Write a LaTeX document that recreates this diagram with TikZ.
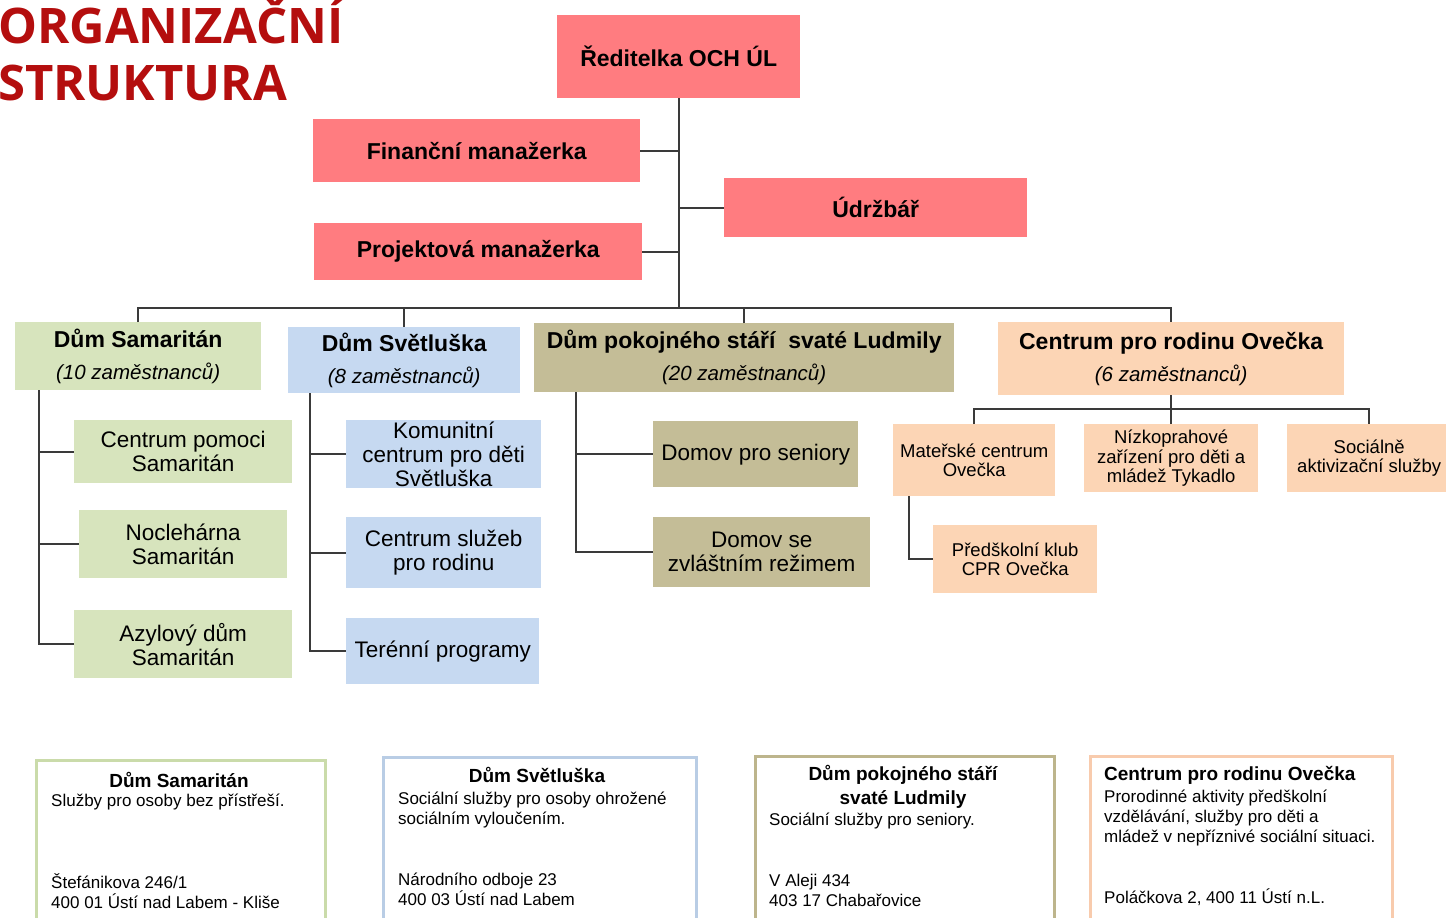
\documentclass[tikz,border=0pt]{standalone}
\usepackage{fontspec}
\setmainfont{Liberation Sans}
\newfontfamily\titlefont{Open Sans}
\definecolor{pinkc}{HTML}{FF7C80}
\definecolor{greenc}{HTML}{D7E4BD}
\definecolor{bluec}{HTML}{C6D9F1}
\definecolor{khakic}{HTML}{C4BD97}
\definecolor{peachc}{HTML}{FCD5B5}
\definecolor{titlec}{HTML}{B40E0E}
\definecolor{linec}{HTML}{3A3A3A}
\definecolor{greenb}{HTML}{CADBAA}
\definecolor{blueb}{HTML}{B9CDE5}
\definecolor{khakib}{HTML}{BDB58C}
\definecolor{peachb}{HTML}{F8CBAD}
\begin{document}
\begin{tikzpicture}[x=1pt,y=-1pt,
  orgbox/.style={inner sep=0pt,anchor=north west,align=center,text=black},
  topbox/.style={orgbox,fill=pinkc,font=\fontsize{23}{26}\selectfont\bfseries},
  headbox/.style={orgbox,font=\fontsize{23}{32}\selectfont},
  subbox/.style={orgbox,font=\fontsize{22.5}{24}\selectfont},
  smallbox/.style={orgbox,font=\fontsize{18.5}{19.5}\selectfont},
  infobox/.style={inner sep=0pt,anchor=north west,line width=3pt},
  infotitle/.style={inner sep=0pt,anchor=base,font=\fontsize{19}{22}\selectfont\bfseries},
  infotext/.style={inner sep=0pt,anchor=base west,font=\fontsize{17}{20}\selectfont},
  conn/.style={draw=linec,line width=2pt},
  titletext/.style={inner sep=0pt,anchor=base west,text=titlec,font=\fontsize{49}{56}\selectfont\titlefont\bfseries}]
\clip (0,0) rectangle (1446,918);

% title
\node[titletext] (t1) at (-2,43) {ORGANIZAČNÍ};
\node[titletext] (t2) at (-2,100) {STRUKTURA};

% top management
\node[topbox,minimum width=243,minimum height=83] (dir) at (557,15) {Ředitelka OCH ÚL};
\node[topbox,minimum width=327,minimum height=63] (fin) at (313,119) {Finanční manažerka};
\node[topbox,minimum width=303,minimum height=59] (udr) at (724,178) {Údržbář};
\node[topbox,minimum width=328,minimum height=57] (proj) at (314,223) {Projektová manažerka};

% houses
\node[headbox,fill=greenc,minimum width=246,minimum height=68] (sam) at (15,322)
  {{\bfseries Dům Samaritán}\\{\fontsize{20.5}{32}\selectfont\itshape (10 zaměstnanců)}};
\node[headbox,fill=bluec,minimum width=232,minimum height=66] (svet) at (288,327)
  {{\bfseries Dům Světluška}\\{\fontsize{20.5}{32}\selectfont\itshape (8 zaměstnanců)}};
\node[headbox,fill=khakic,minimum width=420,minimum height=69] (lud) at (534,323)
  {{\bfseries Dům pokojného stáří\ \ svaté Ludmily}\\{\fontsize{20.5}{32}\selectfont\itshape (20 zaměstnanců)}};
\node[headbox,fill=peachc,minimum width=346,minimum height=73] (ove) at (998,322)
  {{\bfseries Centrum pro rodinu Ovečka}\\{\fontsize{20.5}{32}\selectfont\itshape (6 zaměstnanců)}};

% Samaritan units
\node[subbox,fill=greenc,minimum width=218,minimum height=63] (cp) at (74,420) {Centrum pomoci\\Samaritán};
\node[subbox,fill=greenc,minimum width=208,minimum height=68] (noc) at (79,510) {Noclehárna\\Samaritán};
\node[subbox,fill=greenc,minimum width=218,minimum height=68] (azyl) at (74,610) {Azylový dům\\Samaritán};

% Svetluska units
\node[subbox,fill=bluec,minimum width=195,minimum height=68] (kom) at (346,420) {Komunitní\\centrum pro děti\\Světluška};
\node[subbox,fill=bluec,minimum width=195,minimum height=71] (csr) at (346,517) {Centrum služeb\\pro rodinu};
\node[subbox,fill=bluec,minimum width=193,minimum height=66] (ter) at (346,618) {Terénní programy};

% Ludmila units
\node[subbox,fill=khakic,minimum width=205,minimum height=66] (dps) at (653,421) {Domov pro seniory};
\node[subbox,fill=khakic,minimum width=217,minimum height=70] (dzr) at (653,517) {Domov se\\zvláštním režimem};

% Ovecka units
\node[smallbox,fill=peachc,minimum width=162,minimum height=72] (mat) at (893,424) {Mateřské centrum\\Ovečka};
\node[smallbox,fill=peachc,minimum width=174,minimum height=68] (niz) at (1084,424) {Nízkoprahové\\zařízení pro děti a\\mládež Tykadlo};
\node[smallbox,fill=peachc,minimum width=164,minimum height=68] (soc) at (1287,424) {Sociálně\\aktivizační služby};
\node[smallbox,fill=peachc,minimum width=164,minimum height=68] (pred) at (933,525) {Předškolní klub\\CPR Ovečka};

% helper coordinates
\coordinate (busY) at (0,308);
\coordinate (oveBus) at (0,409);
\coordinate (samSp) at (39,0);
\coordinate (svetSp) at (310,0);
\coordinate (ludSp) at (576,0);
\coordinate (matSp) at (909,0);

% connectors
\draw[conn] (dir.south) -- (dir.south |- busY);
\draw[conn] (fin.east) -- (fin.east -| dir.south);
\draw[conn] (udr.west) -- (udr.west -| dir.south);
\draw[conn] (proj.east) -- (proj.east -| dir.south);
\draw[conn] (sam.north) -- (sam.north |- busY) -- (ove.north |- busY) -- (ove.north);
\draw[conn] (svet.north) -- (svet.north |- busY);
\draw[conn] (lud.north) -- (lud.north |- busY);

\draw[conn] (sam.south -| samSp) -- (samSp |- azyl.west) -- (azyl.west);
\draw[conn] (samSp |- cp.west) -- (cp.west);
\draw[conn] (samSp |- noc.west) -- (noc.west);

\draw[conn] (svet.south -| svetSp) -- (svetSp |- ter.west) -- (ter.west);
\draw[conn] (svetSp |- kom.west) -- (kom.west);
\draw[conn] (svetSp |- csr.west) -- (csr.west);

\draw[conn] (lud.south -| ludSp) -- (ludSp |- dzr.west) -- (dzr.west);
\draw[conn] (ludSp |- dps.west) -- (dps.west);

\draw[conn] (ove.south) -- (ove.south |- oveBus);
\draw[conn] (mat.north) -- (mat.north |- oveBus) -- (soc.north |- oveBus) -- (soc.north);
\draw[conn] (niz.north) -- (niz.north |- oveBus);
\draw[conn] (mat.south -| matSp) |- (pred.west);

% info boxes
\node[infobox,draw=greenb,minimum width=289,minimum height=200] (b1) at (35,759) {};
\node[infobox,draw=blueb,minimum width=313,minimum height=200] (b2) at (382,756) {};
\node[infobox,draw=khakib,minimum width=299,minimum height=200] (b3) at (754,755) {};
\node[infobox,draw=peachb,minimum width=302,minimum height=200] (b4) at (1089,755) {};

\node[infotitle] (b1t) at (179,787) {Dům Samaritán};
\node[infotext] (b1a) at (51,806) {Služby pro osoby bez přístřeší.};
\node[infotext] (b1b) at (51,888) {Štefánikova 246/1};
\node[infotext] (b1c) at (51,908) {400 01 Ústí nad Labem - Kliše};

\node[infotitle] (b2t) at (537,782) {Dům Světluška};
\node[infotext] (b2a) at (398,804) {Sociální služby pro osoby ohrožené};
\node[infotext] (b2b) at (398,824) {sociálním vyloučením.};
\node[infotext] (b2c) at (398,885) {Národního odboje 23};
\node[infotext] (b2d) at (398,905) {400 03 Ústí nad Labem};

\node[infotitle] (b3t) at (903,780) {Dům pokojného stáří};
\node[infotitle] (b3u) at (903,804) {svaté Ludmily};
\node[infotext] (b3a) at (769,825) {Sociální služby pro seniory.};
\node[infotext] (b3b) at (769,886) {V Aleji 434};
\node[infotext] (b3c) at (769,906) {403 17 Chabařovice};

\node[infotitle,anchor=base west] (b4t) at (1104,780) {Centrum pro rodinu Ovečka};
\node[infotext] (b4a) at (1104,802) {Prorodinné aktivity předškolní};
\node[infotext] (b4b) at (1104,822) {vzdělávání, služby pro děti a};
\node[infotext] (b4c) at (1104,842) {mládež v nepříznivé sociální situaci.};
\node[infotext] (b4d) at (1104,903) {Poláčkova 2, 400 11 Ústí n.L.};
\end{tikzpicture}
\end{document}
